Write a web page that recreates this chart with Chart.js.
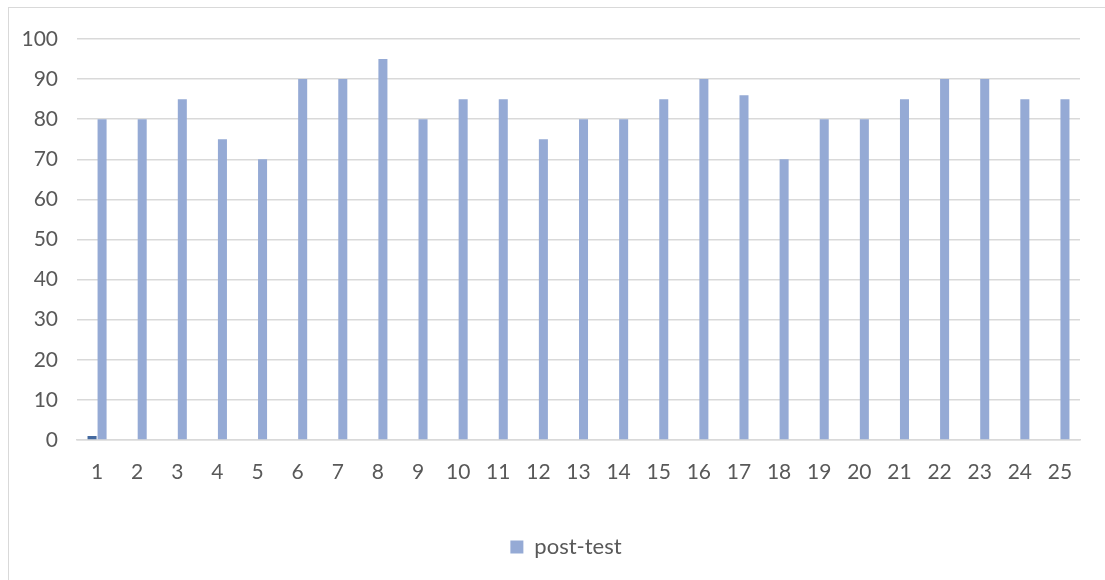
<!DOCTYPE html>
<html>
<head>
<meta charset="utf-8">
<script src="https://cdn.jsdelivr.net/npm/chart.js@4/dist/chart.umd.min.js"></script>
<style>
  html, body { margin: 0; padding: 0; background: #ffffff; }
  #wrap { width: 1105px; height: 580px; position: relative; }
</style>
</head>
<body>
<div id="wrap"><canvas id="c" width="1105" height="580"></canvas></div>
<script>
const categories = ['1','2','3','4','5','6','7','8','9','10','11','12','13','14','15','16','17','18','19','20','21','22','23','24','25'];
const firstSeries = [1, null, null, null, null, null, null, null, null, null, null, null, null, null, null, null, null, null, null, null, null, null, null, null, null];
const postTest = [80, 80, 85, 75, 70, 90, 90, 95, 80, 85, 85, 75, 80, 80, 85, 90, 86, 70, 80, 80, 85, 90, 90, 85, 85];
const yTicks = { min: 0, max: 100, step: 10 };

const frame = {
  id: 'frame',
  beforeDraw(chart) {
    const ctx = chart.ctx;
    ctx.save();
    ctx.fillStyle = '#ffffff';
    ctx.fillRect(0, 0, chart.width, chart.height);
    ctx.strokeStyle = '#d9d9d9';
    ctx.lineWidth = 1;
    ctx.strokeRect(8.5, 7.5, 1300, 800);
    ctx.restore();
  }
};

const legendShift = {
  id: 'legendShift',
  afterLayout(chart) {
    const lg = chart.legend;
    if (lg) { lg.left += 26; lg.right += 26; }
  }
};

new Chart(document.getElementById('c'), {
  type: 'bar',
  data: {
    labels: categories,
    datasets: [
      { label: 'series1', data: firstSeries, backgroundColor: '#44699f', categoryPercentage: 0.5, barPercentage: 0.9 },
      { label: 'post-test', data: postTest, backgroundColor: '#95aad5', categoryPercentage: 0.5, barPercentage: 0.9 }
    ]
  },
  options: {
    responsive: false,
    animation: false,
    devicePixelRatio: 1,
    layout: { padding: { left: 0, right: 25, top: 39, bottom: 12 } },
    plugins: {
      tooltip: { enabled: false },
      legend: {
        position: 'bottom',
        labels: {
          filter: (item) => item.text === 'post-test',
          boxWidth: 13, boxHeight: 13, padding: 10,
          color: '#595959',
          font: { family: 'Lato', size: 22 }
        }
      }
    },
    scales: {
      x: {
        grid: { display: false, drawTicks: false },
        border: { display: true, color: '#d9d9d9', width: 1.5 },
        ticks: { color: '#595959', font: { family: 'Lato', size: 21 }, padding: 20, maxRotation: 0 },
        afterFit: (s) => { s.height = 86; }
      },
      y: {
        min: yTicks.min, max: yTicks.max,
        grid: { color: '#d9d9d9', drawTicks: false, lineWidth: 1.5 },
        border: { display: false },
        ticks: { stepSize: yTicks.step, color: '#595959', font: { family: 'Lato', size: 21 }, padding: 19 },
        afterFit: (s) => { s.width = 77; }
      }
    }
  },
  plugins: [frame, legendShift]
});
</script>
</body>
</html>
